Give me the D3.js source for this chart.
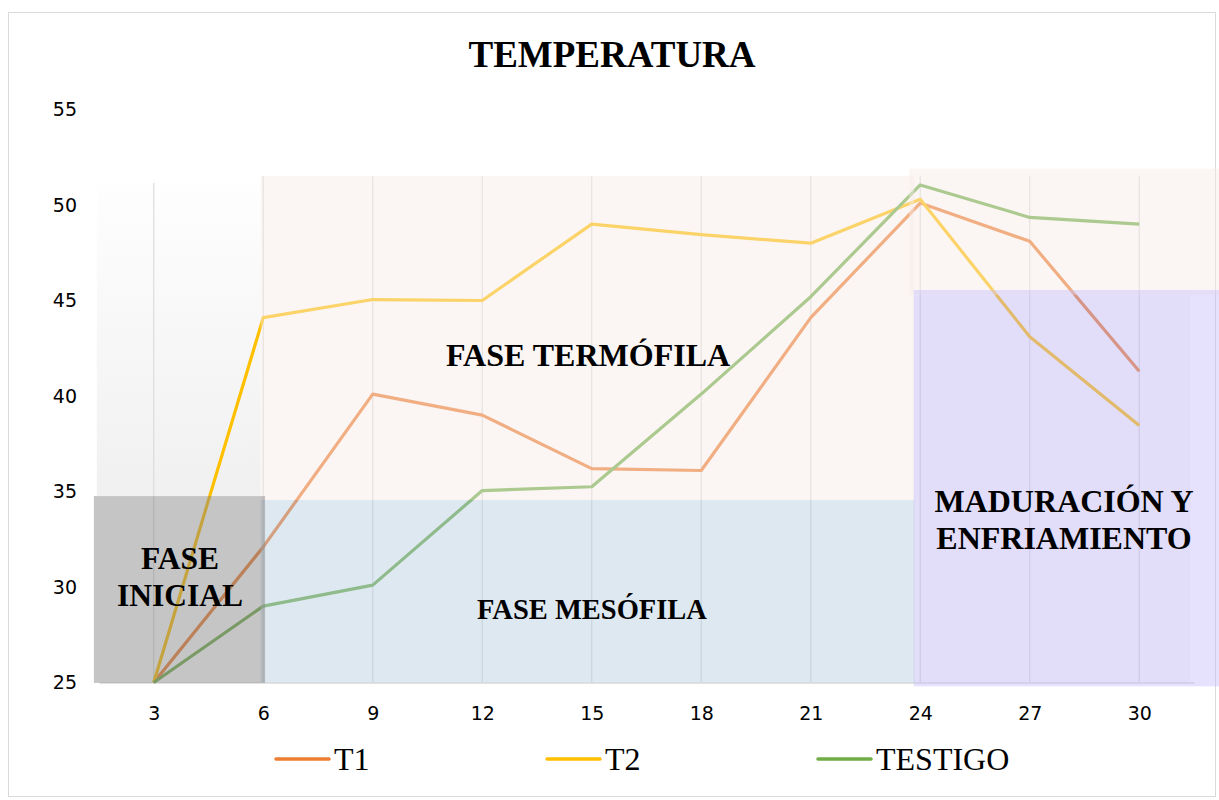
<!DOCTYPE html>
<html>
<head>
<meta charset="utf-8">
<script src="https://cdn.jsdelivr.net/npm/d3@7"></script>
<style>
  body { margin: 0; background: #fff; }
</style>
</head>
<body>
<div id="chart"></div>
<script>
// Data
const days = [3, 6, 9, 12, 15, 18, 21, 24, 27, 30];
const t1 = [25, 32.1, 40.1, 39.0, 36.2, 36.1, 44.1, 50.1, 48.1, 41.3];
const t2 = [25, 44.1, 45.05, 45.0, 49.0, 48.45, 48.0, 50.3, 43.1, 38.45];
const testigo = [25, 29.0, 30.1, 35.05, 35.25, 40.1, 45.2, 51.05, 49.35, 49.0];
const yTicks = [25, 30, 35, 40, 45, 50, 55];
const seriesNames = ["T1", "T2", "TESTIGO"];
const seriesColors = ["#ed7d31", "#ffc000", "#70ad47"];

const W = 1219, H = 800;
const plot = { left: 99, right: 1194, top: 109.5, bottom: 682.5 };

const svg = d3.select("#chart")
    .append("svg")
    .attr("width", W)
    .attr("height", H)
    .style("background-color", "white");

// Scales
const x = d3.scalePoint()
    .domain(days)
    .range([plot.left, plot.right])
    .padding(0.5);
const xd = d3.scaleLinear() // continuous day scale for the phase boxes
    .domain([3, 30])
    .range([x(3), x(30)]);
const y = d3.scaleLinear()
    .domain([25, 55])
    .range([plot.bottom, plot.top]);

// chart border
svg.append("rect")
    .attr("x", 8.5).attr("y", 12.5)
    .attr("width", W - 12).attr("height", H - 16)
    .attr("fill", "none")
    .attr("stroke", "#d9d9d9");

// Title
svg.append("text")
    .attr("x", 612)
    .attr("y", 67)
    .attr("text-anchor", "middle")
    .style("font-family", "'Liberation Serif', 'Times New Roman', serif")
    .style("font-weight", "bold")
    .style("font-size", "37px")
    .text("TEMPERATURA");

// gradient box on the left (behind the lines)
const defs = svg.append("defs");
const grad = defs.append("linearGradient")
    .attr("id", "leftGrad")
    .attr("x1", 0).attr("y1", 0).attr("x2", 0).attr("y2", 1);
grad.append("stop").attr("offset", "0%").attr("stop-color", "#fefefe");
grad.append("stop").attr("offset", "100%").attr("stop-color", "#f0f0f0");

function box(d0, d1, v0, v1) {
    return { x: xd(d0), y: y(v1), w: xd(d1) - xd(d0), h: y(v0) - y(v1) };
}

const lb = box(1.44, 5.93, 34.76, 51.15);
svg.append("rect")
    .attr("x", lb.x).attr("y", lb.y).attr("width", lb.w).attr("height", lb.h)
    .attr("fill", "url(#leftGrad)");

// vertical gridlines
svg.append("g")
    .selectAll("line")
    .data(days)
    .join("line")
    .attr("x1", d => x(d)).attr("x2", d => x(d))
    .attr("y1", d => d < 6 ? y(51.15) : y(51.5)).attr("y2", y(25))
    .attr("stroke", "#dcdcdc")
    .attr("stroke-width", 1.2);

// X axis
const xAxis = svg.append("g")
    .attr("transform", `translate(0,${y(25)})`)
    .call(d3.axisBottom(x).tickSize(0).tickPadding(24));
xAxis.select(".domain").attr("stroke", "#d9d9d9").attr("stroke-width", 1.5);
xAxis.selectAll("text")
    .style("font-family", "'DejaVu Sans', sans-serif")
    .style("font-size", "19px")
    .attr("fill", "#000");

// Y axis
const yAxis = svg.append("g")
    .attr("transform", `translate(${plot.left - 22},0)`)
    .call(d3.axisLeft(y).tickValues(yTicks).tickSize(0).tickPadding(0));
yAxis.select(".domain").remove();
yAxis.selectAll("text")
    .style("font-family", "'DejaVu Sans', sans-serif")
    .style("font-size", "19px")
    .attr("fill", "#000");

// Lines
const series = [t1, t2, testigo];
const line = d3.line()
    .x((d, i) => x(days[i]))
    .y(d => y(d));

svg.append("g")
    .selectAll("path")
    .data(series)
    .join("path")
    .attr("fill", "none")
    .attr("stroke", (d, i) => seriesColors[i])
    .attr("stroke-width", 3.2)
    .attr("stroke-linejoin", "round")
    .attr("d", line);

// phase boxes laid on top of the lines
const phases = [
    { b: box(5.93, 23.84, 34.55, 51.52), fill: "rgb(246,235,231)", op: 0.45 },   // termofila
    { b: box(5.93, 23.84, 25.0, 34.55), fill: "rgb(182,204,224)", op: 0.45 },    // mesofila
    { b: box(1.36, 6.05, 24.98, 34.76), fill: "rgb(133,133,133)", op: 0.48 },    // inicial
    { b: box(23.7, 32.2, 45.3, 51.9), fill: "rgb(246,235,231)", op: 0.45 },      // esquina
    { b: box(23.82, 32.2, 24.8, 45.55), fill: "rgb(196,186,250)", op: 0.42 },    // maduracion
    { b: box(23.82, 31.4, 25.0, 45.25), fill: "rgb(150,140,170)", op: 0.05 }
];
svg.append("g")
    .selectAll("rect")
    .data(phases)
    .join("rect")
    .attr("x", d => d.b.x).attr("y", d => d.b.y)
    .attr("width", d => d.b.w).attr("height", d => d.b.h)
    .attr("fill", d => d.fill)
    .attr("fill-opacity", d => d.op);

// phase labels
const labels = [
    { lines: ["FASE", "INICIAL"], x: 180, y: 569, size: 31.5 },
    { lines: ["FASE TERMÓFILA"], x: 588, y: 366, size: 32 },
    { lines: ["FASE MESÓFILA"], x: 592, y: 619, size: 28.5 },
    { lines: ["MADURACIÓN Y", "ENFRIAMIENTO"], x: 1064, y: 512, size: 32 }
];
labels.forEach(l => {
    const t = svg.append("text")
        .attr("x", l.x)
        .attr("y", l.y)
        .attr("text-anchor", "middle")
        .style("font-family", "'Liberation Serif', 'Times New Roman', serif")
        .style("font-weight", "bold")
        .style("font-size", l.size + "px");
    l.lines.forEach((s, i) => {
        t.append("tspan")
            .attr("x", l.x)
            .attr("dy", i === 0 ? 0 : 37)
            .text(s);
    });
});

// Legend
const legendX = [276, 547, 818];
const legend = svg.append("g")
    .selectAll("g")
    .data(seriesNames)
    .join("g")
    .attr("transform", (d, i) => `translate(${legendX[i]},759)`);
legend.append("line")
    .attr("x1", 0).attr("x2", 53)
    .attr("stroke", (d, i) => seriesColors[i])
    .attr("stroke-width", 3.5)
    .attr("stroke-linecap", "round");
legend.append("text")
    .attr("x", 58)
    .attr("y", 11)
    .style("font-family", "'Liberation Serif', 'Times New Roman', serif")
    .style("font-size", "32px")
    .text(d => d);
</script>
</body>
</html>
